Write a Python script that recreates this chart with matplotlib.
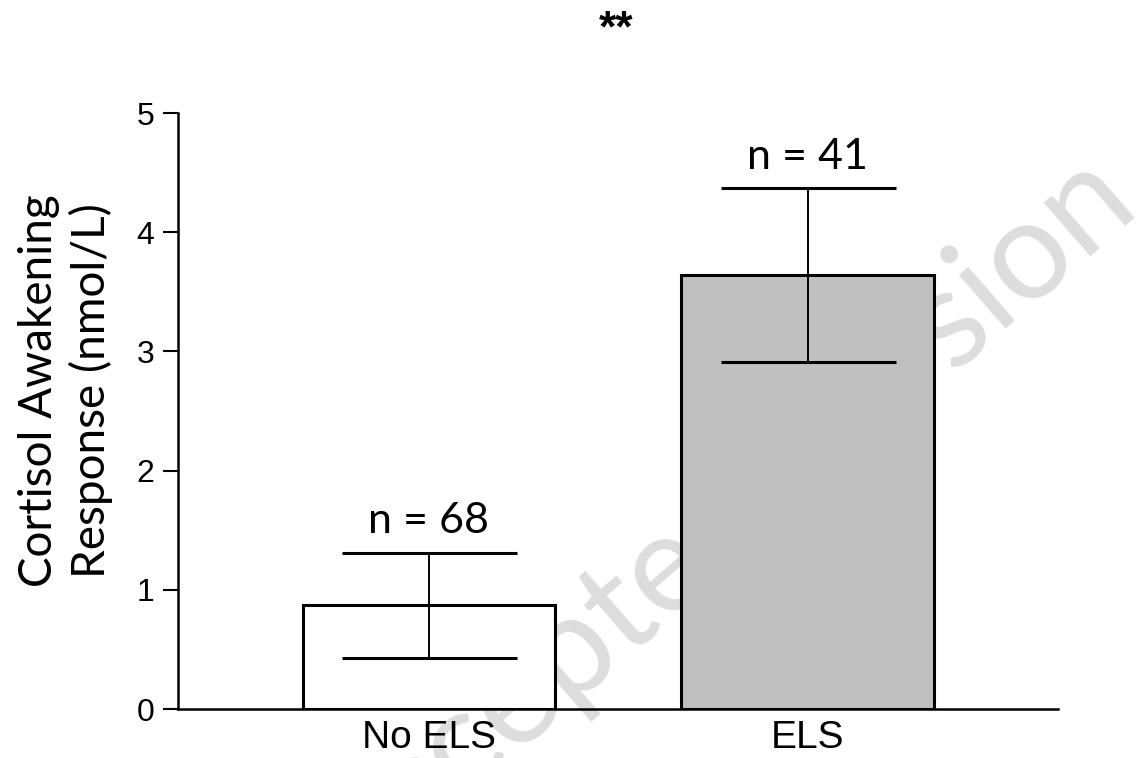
import matplotlib
matplotlib.use("Agg")
import matplotlib.pyplot as plt

# values
groups = ["No ELS", "ELS"]
means = [0.87, 3.64]
sems = [0.44, 0.73]
n_labels = ["n = 68", "n = 41"]
bar_colors = ["#ffffff", "#c0c0c0"]
yticks = [0, 1, 2, 3, 4, 5]

arial = ["Liberation Sans", "DejaVu Sans"]
calibri = ["Lato", "DejaVu Sans"]

fig = plt.figure(figsize=(11.39, 7.58), dpi=100)
ax = fig.add_axes([0.1563, 0.0646, 0.929 - 0.1563, 0.8509 - 0.0646])
ax.patch.set_visible(False)

# watermark, behind the bars
ax.text(0.652, 0.262, "Accepted version", transform=fig.transFigure, rotation=41,
        rotation_mode="anchor", ha="center", va="baseline", fontsize=100,
        color="#dddddd", family=calibri, zorder=0, clip_on=False)

x = list(range(len(groups)))
ax.bar(x, means, width=0.666, color=bar_colors, edgecolor="black",
       linewidth=2.2, zorder=2)
ax.errorbar(x, means, yerr=sems, fmt="none", ecolor="black", elinewidth=1.4,
            capsize=63, capthick=2.2, zorder=3)

for xi, m, s, lab in zip(x, means, sems, n_labels):
    ax.annotate(lab, (xi, m + s), xytext=(0, 9), textcoords="offset points",
                ha="center", va="bottom", fontsize=31, family=calibri)

ax.set_xlim(-0.663, 1.662)
ax.set_ylim(0, 5)
ax.set_yticks(yticks)
ax.set_yticklabels([str(t) for t in yticks], family=arial, fontsize=23)
ax.set_xticks(x)
ax.set_xticklabels(groups, family=arial, fontsize=28)
ax.tick_params(axis="y", length=11, width=1.5, pad=6)
ax.tick_params(axis="x", length=0, pad=8)

for side in ["top", "right"]:
    ax.spines[side].set_visible(False)
for side in ["left", "bottom"]:
    ax.spines[side].set_linewidth(1.8)

ax.set_ylabel("Cortisol Awakening\nResponse (nmol/L)", family=calibri,
              fontsize=33, linespacing=1.25)
ax.yaxis.set_label_coords(-0.074, 0.535)

fig.text(0.541, 0.945, "**", ha="center", va="baseline", fontsize=32,
         fontweight="bold", family=arial)

fig.savefig("out.png", dpi=100)
